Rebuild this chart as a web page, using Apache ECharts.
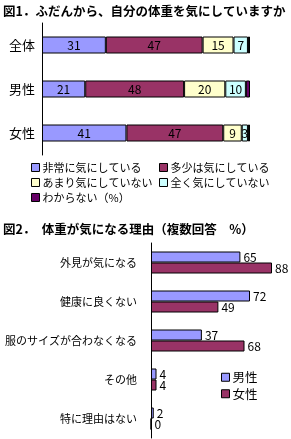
<!DOCTYPE html>
<html><head><meta charset="utf-8">
<script src="https://cdn.jsdelivr.net/npm/echarts@6/dist/echarts.min.js"></script>
<style>html,body{margin:0;padding:0;background:#fff}#c{width:291px;height:439px}</style>
</head><body><div id="c"></div>
<script>
// Figure 1 data
const cats1 = ['全体', '男性', '女性'];
const names1 = ['非常に気にしている', '多少は気にしている', 'あまり気にしていない', '全く気にしていない', 'わからない（%）'];
const veryMuch = [31, 21, 41];
const somewhat = [47, 48, 47];
const notMuch = [15, 20, 9];
const notAtAll = [7, 10, 3];
const unknown = [1, 2, 1];
// Figure 2 data
const cats2 = ['外見が気になる', '健康に良くない', '服のサイズが合わなくなる', 'その他', '特に理由はない'];
const male = [65, 72, 37, 4, 2];
const female = [88, 49, 68, 4, 0];

const F = "'Noto Sans CJK JP', sans-serif";
const colors1 = ['#9999FF', '#993366', '#FFFFCC', '#CCFFFF', '#660066'];
const vals1 = [veryMuch, somewhat, notMuch, notAtAll, unknown];

const chart = echarts.init(document.getElementById('c'));
const series = vals1.map((d, i) => ({
  name: names1[i], type: 'bar', stack: 'a', xAxisIndex: 0, yAxisIndex: 0,
  data: d, barWidth: 17,
  itemStyle: { color: colors1[i], borderColor: '#000', borderWidth: 1 },
  label: { show: i < 4, position: 'inside', color: '#000', fontSize: 12, fontFamily: F }
}));
series.push({
  name: '男性', type: 'bar', xAxisIndex: 1, yAxisIndex: 1, data: male,
  barWidth: 11, barGap: '0%',
  itemStyle: { color: '#9999FF', borderColor: '#000', borderWidth: 1 },
  label: { show: true, position: 'right', distance: 3, color: '#000', fontSize: 12, fontFamily: F }
});
series.push({
  name: '女性', type: 'bar', xAxisIndex: 1, yAxisIndex: 1, data: female,
  barWidth: 11, barGap: '0%',
  itemStyle: { color: '#993366', borderColor: '#000', borderWidth: 1 },
  label: { show: true, position: 'right', distance: 3, color: '#000', fontSize: 12, fontFamily: F }
});

const legendBase = {
  orient: 'vertical', icon: 'rect', itemWidth: 8, itemHeight: 8, itemGap: 4,
  textStyle: { fontSize: 11, color: '#000', fontFamily: F, padding: [0, 0, 0, -2] },
  itemStyle: { borderColor: '#000', borderWidth: 1 }, padding: 0, selectedMode: false
};

chart.setOption({
  animation: false,
  title: [
    { text: '図1．ふだんから、自分の体重を気にしていますか', left: 3, top: 5, padding: 0,
      textStyle: { fontSize: 12.5, fontWeight: 'bold', color: '#000', fontFamily: F } },
    { text: '図2．　体重が気になる理由（複数回答　%）', left: 3, top: 223, padding: 0,
      textStyle: { fontSize: 12.5, fontWeight: 'bold', color: '#000', fontFamily: F } }
  ],
  legend: [
    Object.assign({}, legendBase, { left: 31, top: 162, data: [names1[0], names1[2], names1[4]] }),
    Object.assign({}, legendBase, { left: 159, top: 162, data: [names1[1], names1[3]] }),
    Object.assign({}, legendBase, { left: 221, top: 371, itemGap: 4,
      textStyle: { fontSize: 12.5, color: '#000', fontFamily: F, padding: [0, 0, 0, -2] }, data: ['男性', '女性'] })
  ],
  grid: [
    { left: 42, top: 23, width: 208, height: 132 },
    { left: 151, top: 243, width: 137.5, height: 195 }
  ],
  xAxis: [
    { type: 'value', gridIndex: 0, min: 0, max: 101, show: false, splitLine: { show: false } },
    { type: 'value', gridIndex: 1, min: 0, max: 100, show: false, splitLine: { show: false } }
  ],
  yAxis: [
    { type: 'category', gridIndex: 0, data: cats1, inverse: true,
      axisLine: { lineStyle: { color: '#000' } }, axisTick: { show: false },
      axisLabel: { color: '#000', fontSize: 13, margin: 7, fontFamily: F } },
    { type: 'category', gridIndex: 1, data: cats2, inverse: true,
      axisLine: { lineStyle: { color: '#000' } }, axisTick: { show: false },
      axisLabel: { color: '#000', fontSize: 11, margin: 14, fontFamily: F } }
  ],
  series: series
});
</script>
</body></html>
